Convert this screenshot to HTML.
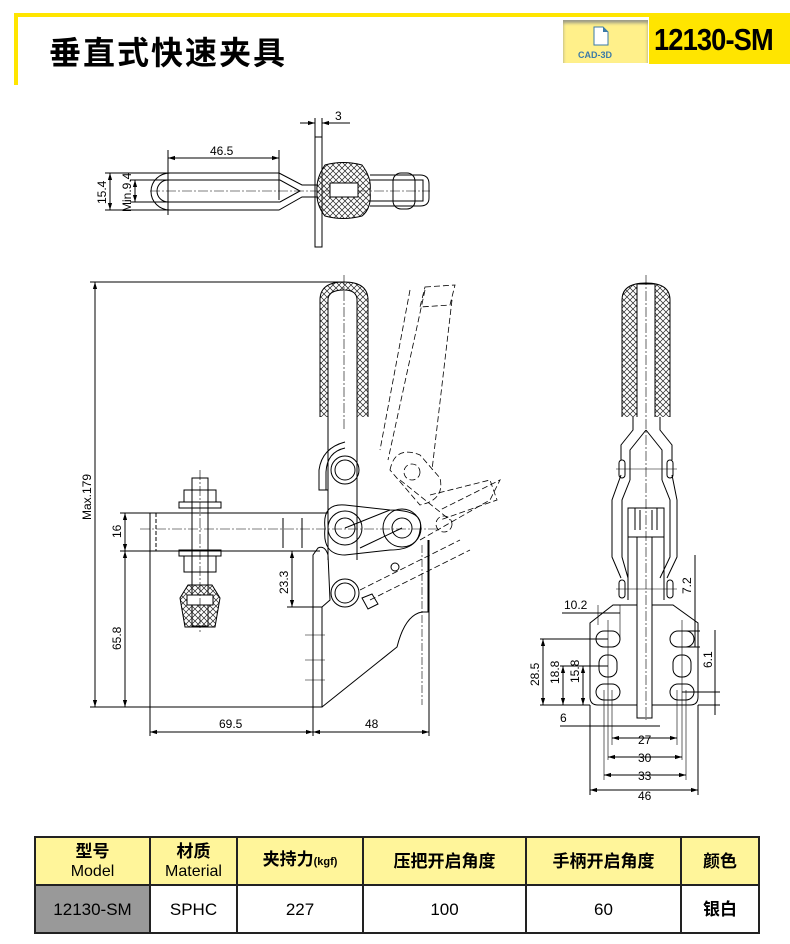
<!DOCTYPE html>
<html><head><meta charset="utf-8"><style>
html,body{margin:0;padding:0;background:#fff;}
body{width:790px;height:944px;position:relative;overflow:hidden;font-family:"Liberation Sans","Noto Sans CJK SC",sans-serif;}
.tb{position:absolute;left:34px;top:836px;border-collapse:collapse;}
.tb td{border:2px solid #222;text-align:center;padding:0;font-size:17px;line-height:19px;}
</style></head><body>
<div style="position:absolute;left:14px;top:13px;width:776px;height:4px;background:#ffe500"></div>
<div style="position:absolute;left:14px;top:13px;width:4px;height:72px;background:#ffe500"></div>
<div style="position:absolute;left:49px;top:28px;font-size:32px;font-weight:bold;font-family:'Noto Sans CJK SC',sans-serif;letter-spacing:2px">垂直式快速夹具</div>
<div style="position:absolute;left:563px;top:20px;width:85px;height:43px;background:#fff08a;box-shadow:inset 0 3px 3px #998"></div>
<svg style="position:absolute;left:593px;top:26px" width="16" height="20"><path d="M1 1H10L15 6V19H1Z" fill="#fff" stroke="#3a7aa8"/><path d="M10 1V6H15" fill="#3a7aa8"/></svg>
<div style="position:absolute;left:578px;top:50px;font-size:9px;font-weight:bold;color:#3a7aa8">CAD-3D</div>
<div style="position:absolute;left:649px;top:17px;width:141px;height:47px;background:#ffe500"></div>
<div style="position:absolute;left:654px;top:22px;font-size:31px;font-weight:bold;letter-spacing:-1px;transform:scaleX(0.88);transform-origin:0 0">12130-SM</div>

<svg style="position:absolute;left:0;top:0" width="790" height="830" font-family="Liberation Sans, sans-serif" font-size="12">
<defs>
<pattern id="h" width="6" height="6" patternUnits="userSpaceOnUse"><path d="M0 0L6 6M6 0L0 6" stroke="#222" stroke-width="0.7"/></pattern>
<marker id="a" viewBox="0 0 10 10" refX="10" refY="5" markerWidth="7" markerHeight="7" orient="auto-start-reverse"><path d="M0 2L10 5L0 8" fill="#000"/></marker>
</defs>
<g stroke="#000" fill="none" stroke-width="1">
<line x1="315" y1="118" x2="315" y2="137"/><line x1="322" y1="118" x2="322" y2="137"/>
<line x1="300" y1="123" x2="315" y2="123" marker-end="url(#a)"/><line x1="337" y1="123" x2="322" y2="123" marker-end="url(#a)"/><line x1="322" y1="123" x2="350" y2="123"/>
<rect x="315" y="137" width="7" height="110"/>
<path d="M279 173H170A19 18.5 0 0 0 170 210H279L302 197H318M279 173L302 185H318"/>
<path d="M280 180H168A11 11 0 0 0 168 202H280L300 191Z"/>
<line x1="168" y1="150" x2="168" y2="215"/><line x1="279" y1="150" x2="279" y2="200"/>
<line x1="168" y1="158" x2="279" y2="158" marker-start="url(#a)" marker-end="url(#a)"/>
<line x1="105" y1="173" x2="170" y2="173"/><line x1="105" y1="210" x2="170" y2="210"/>
<line x1="110" y1="173" x2="110" y2="210" marker-start="url(#a)" marker-end="url(#a)"/>
<line x1="130" y1="180" x2="168" y2="180"/><line x1="130" y1="202" x2="168" y2="202"/>
<line x1="135" y1="180" x2="135" y2="202" marker-start="url(#a)" marker-end="url(#a)"/>
<line x1="150" y1="191" x2="430" y2="191" stroke-dasharray="10 2 2 2" stroke-width="0.6"/>
<path d="M325 165Q343 160 362 165Q372 178 370 191Q372 208 362 216Q343 221 325 216Q316 205 317 191Q316 178 325 165Z" fill="url(#h)"/>
<rect x="330" y="183" width="28" height="14" fill="#fff"/>
<path d="M370 175H420Q429 175 429 184V198Q429 206 420 206H370"/><path d="M370 180H423V201H370"/>
<rect x="393" y="173" width="22" height="36" rx="8"/>
<line x1="90" y1="282" x2="345" y2="282"/>
<line x1="95" y1="282" x2="95" y2="707" marker-start="url(#a)" marker-end="url(#a)"/>
<line x1="90" y1="707" x2="313" y2="707"/>
<line x1="120" y1="513" x2="150" y2="513"/><line x1="120" y1="551" x2="150" y2="551"/>
<line x1="125" y1="513" x2="125" y2="551" marker-start="url(#a)" marker-end="url(#a)"/>
<line x1="125" y1="551" x2="125" y2="707" marker-start="url(#a)" marker-end="url(#a)"/>
<line x1="150" y1="551" x2="150" y2="736"/><line x1="313" y1="707" x2="313" y2="736"/><line x1="429" y1="540" x2="429" y2="736"/>
<line x1="150" y1="732" x2="313" y2="732" marker-start="url(#a)" marker-end="url(#a)"/>
<line x1="313" y1="732" x2="429" y2="732" marker-start="url(#a)" marker-end="url(#a)"/>
<line x1="287" y1="551" x2="318" y2="551"/><line x1="287" y1="607" x2="318" y2="607"/>
<line x1="292" y1="551" x2="292" y2="607" marker-start="url(#a)" marker-end="url(#a)"/>
<path d="M150 513H328M150 551H320M150 513V551"/>
<line x1="156" y1="513" x2="156" y2="551" stroke-dasharray="4 2"/>
<line x1="283" y1="518" x2="283" y2="548"/><line x1="302" y1="518" x2="302" y2="548"/>
<line x1="140" y1="529" x2="440" y2="529" stroke-dasharray="10 2 2 2" stroke-width="0.6"/>
<rect x="192" y="478" width="16" height="148"/>
<path d="M184 490h32v12h-32z M179 502h42v6h-42z M179 550h42v6h-42z M184 556h32v16h-32z"/>
<path d="M188 585h24l8 13-5 29h-30l-5-29z" fill="url(#h)"/>
<rect x="187" y="595" width="26" height="10" fill="#fff"/>
<line x1="200" y1="470" x2="200" y2="632" stroke-dasharray="10 2 2 2" stroke-width="0.6"/>
<path d="M320 417V300Q320 282 344 282Q368 282 368 300V417" fill="url(#h)"/>
<path d="M328 417V300Q328 290 344 290Q357 290 357 300V417" fill="#fff"/>
<path d="M328 417V560M357 417V560"/>
<line x1="344" y1="275" x2="344" y2="430" stroke-dasharray="10 2 2 2" stroke-width="0.6"/>
<path d="M345 442Q322 448 319 470V490H328"/><path d="M345 448Q327 452 326 472V490"/>
<circle cx="345" cy="470" r="10"/><circle cx="345" cy="470" r="14"/>
<path d="M325 528Q322 503 345 505L390 510Q425 510 420 530Q418 550 390 550L345 555Q322 555 325 528"/>
<circle cx="345" cy="528" r="10"/><circle cx="345" cy="528" r="17"/>
<circle cx="402" cy="528" r="10"/><circle cx="402" cy="528" r="19"/>
<path d="M345 528L390 510M360 548L402 528"/>
<path d="M322 607L313 607V555L318 548Q325 545 328 555L330 600Z"/>
<circle cx="345" cy="593" r="10"/><circle cx="345" cy="593" r="14"/>
<path d="M362 598l10-4 6 10-10 5z"/>
<path d="M313 607V707H322V607M322 707L397 647Q405 615 422 612H428V540"/>
<line x1="422" y1="545" x2="422" y2="705" stroke-dasharray="8 2 2 2" stroke-width="0.6"/>
<path d="M305 635h20M305 660h20M305 680h20" stroke-width="0.6"/>
<g stroke-dasharray="6 3" stroke-width="0.8">
<path d="M425 287L455 285L450 305L420 307Z"/>
<path d="M425 290L388 460M452 300L432 470M410 290L380 450"/>
<circle cx="412" cy="472" r="8"/><path d="M390 470Q395 445 420 455L440 478Q445 500 420 505Z"/>
<path d="M400 480L450 520M420 540L490 500L500 480L440 510"/>
<circle cx="444" cy="524" r="8"/>
<path d="M360 590L460 540M370 600L470 550M430 495L490 480L497 500L440 520"/>
</g>
<circle cx="395" cy="567" r="4"/>
<path d="M622 417V300Q622 283 646 283Q670 283 670 300V417" fill="url(#h)"/>
<path d="M637 417V284H655V417" fill="#fff"/>
<line x1="646" y1="275" x2="646" y2="720" stroke-dasharray="10 2 2 2" stroke-width="0.6"/>
<path d="M633 417V430L621 445V460M660 417V430L672 445V460M646 430L630 450V480M646 430L662 450V480"/>
<path d="M621 475L612 500V557L621 578M672 475L677 500V557L667 578M630 480L622 500V557L628 578M662 480L670 500V557L660 578"/>
<rect x="619" y="460" width="6" height="18" rx="3"/><rect x="667" y="460" width="6" height="18" rx="3"/>
<rect x="619" y="580" width="6" height="18" rx="3"/><rect x="667" y="580" width="6" height="18" rx="3"/>
<path d="M628 508H664V537H628Z M635 508V530M657 508V530M640 510V530M652 510V530"/>
<path d="M616 469H677M616 589H677" stroke-width="0.6"/>
<path d="M628 537V600M664 537V600M637 537V718H652V537"/>
<path d="M622 605H637M652 605H673L698 623V697Q698 705 690 705H652M637 705H598Q590 705 590 697V623L613 605H622"/>
<g>
<rect x="596" y="631" width="24" height="16" rx="8"/><rect x="599" y="655" width="18" height="22" rx="8"/><rect x="596" y="684" width="24" height="16" rx="8"/>
<rect x="670" y="631" width="24" height="16" rx="8"/><rect x="673" y="655" width="18" height="22" rx="8"/><rect x="670" y="684" width="24" height="16" rx="8"/>
</g>
<path d="M608 620V760M612 690V745M604 690V780M682 620V760M677 690V745M686 690V780" stroke-width="0.6"/>
<line x1="590" y1="705" x2="590" y2="795"/><line x1="698" y1="705" x2="698" y2="795"/>
<line x1="612" y1="738" x2="677" y2="738" marker-start="url(#a)" marker-end="url(#a)"/>
<line x1="608" y1="757" x2="682" y2="757" marker-start="url(#a)" marker-end="url(#a)"/>
<line x1="604" y1="775" x2="686" y2="775" marker-start="url(#a)" marker-end="url(#a)"/>
<line x1="590" y1="790" x2="698" y2="790" marker-start="url(#a)" marker-end="url(#a)"/>
<line x1="540" y1="639" x2="608" y2="639"/><line x1="560" y1="666" x2="608" y2="666"/><line x1="580" y1="666" x2="608" y2="666"/>
<line x1="540" y1="705" x2="590" y2="705"/>
<line x1="543" y1="639" x2="543" y2="705" marker-start="url(#a)" marker-end="url(#a)"/>
<line x1="563" y1="666" x2="563" y2="705" marker-start="url(#a)" marker-end="url(#a)"/>
<line x1="583" y1="666" x2="583" y2="705" marker-start="url(#a)" marker-end="url(#a)"/>
<line x1="562" y1="613" x2="620" y2="613"/><line x1="598" y1="605" x2="598" y2="625" stroke-width="0.6"/><line x1="620" y1="605" x2="620" y2="640" stroke-width="0.6"/>
<line x1="560" y1="726" x2="660" y2="726"/>
<line x1="695" y1="555" x2="695" y2="647"/><line x1="682" y1="647" x2="700" y2="647"/><line x1="682" y1="631" x2="700" y2="631"/>
<line x1="682" y1="692" x2="720" y2="692"/><line x1="715" y1="630" x2="715" y2="715"/><line x1="698" y1="705" x2="720" y2="705"/>
</g>
<g fill="#000">
<text x="335" y="120">3</text>
<text x="210" y="155">46.5</text>
<text transform="translate(106,204) rotate(-90)">15.4</text>
<text transform="translate(131,212) rotate(-90)">Min.9.4</text>
<text transform="translate(91,520) rotate(-90)">Max.179</text>
<text transform="translate(121,538) rotate(-90)">16</text>
<text transform="translate(121,650) rotate(-90)">65.8</text>
<text transform="translate(288,594) rotate(-90)">23.3</text>
<text x="219" y="728">69.5</text>
<text x="365" y="728">48</text>
<text x="564" y="609">10.2</text>
<text x="560" y="722">6</text>
<text transform="translate(539,686) rotate(-90)">28.5</text>
<text transform="translate(559,684) rotate(-90)">18.8</text>
<text transform="translate(579,683) rotate(-90)">15.8</text>
<text transform="translate(691,594) rotate(-90)">7.2</text>
<text transform="translate(712,668) rotate(-90)">6.1</text>
<text x="638" y="744">27</text><text x="638" y="762">30</text><text x="638" y="780">33</text><text x="638" y="800">46</text>
</g>
</svg>

<table class="tb">
<tr style="height:48px;background:#fff59a;font-weight:bold">
<td style="width:113px">型号<br><span style="font-weight:normal;font-size:16px">Model</span></td>
<td style="width:85px">材质<br><span style="font-weight:normal;font-size:16px">Material</span></td>
<td style="width:124px">夹持力<span style="font-size:11px">(kgf)</span></td>
<td style="width:161px">压把开启角度</td>
<td style="width:153px">手柄开启角度</td>
<td style="width:76px">颜色</td>
</tr>
<tr style="height:48px">
<td style="background:#999">12130-SM</td><td>SPHC</td><td>227</td><td>100</td><td>60</td><td style="font-weight:bold">银白</td>
</tr>
</table>
</body></html>
